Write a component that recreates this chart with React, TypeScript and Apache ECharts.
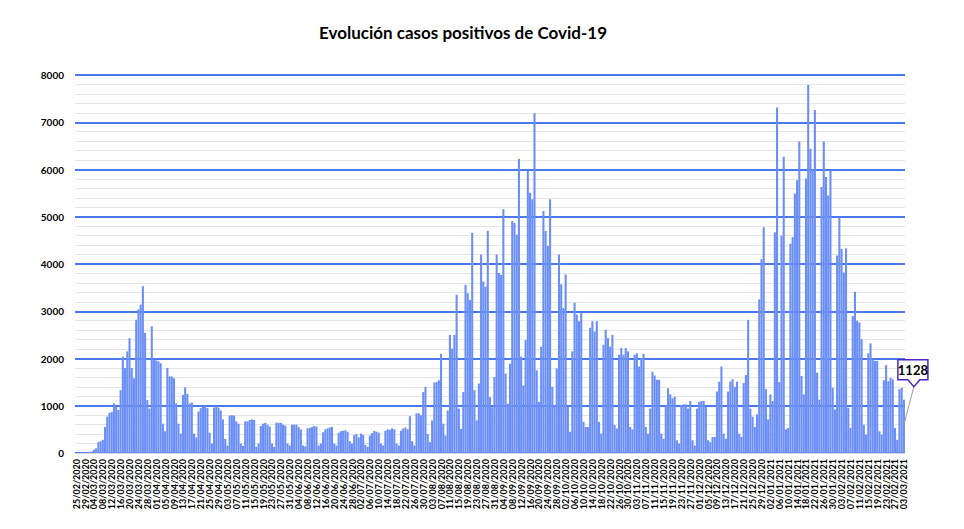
import React, { useEffect, useRef } from "react";
import * as echarts from "echarts";

// Daily new cases, one row per week (Tuesday .. Monday), from 25/02/2020
const dailyCases: number[] = [
  2, 3, 5, 8, 10, 15, 25,
  30, 70, 100, 230, 250, 280, 550,
  770, 850, 870, 1050, 980, 910, 1330,
  2040, 1800, 2150, 2430, 1800, 1580, 2820,
  3040, 3140, 3530, 2540, 1120, 940, 2680,
  1970, 1960, 1940, 1900, 620, 460, 1800,
  1620, 1620, 1580, 1050, 620, 410, 1230,
  1390, 1250, 1050, 1070, 410, 330, 880,
  950, 980, 1000, 950, 430, 200, 960,
  990, 960, 900, 710, 300, 160, 790,
  800, 790, 670, 620, 200, 150, 670,
  670, 700, 710, 700, 130, 200, 570,
  620, 640, 600, 560, 200, 130, 640,
  640, 640, 600, 580, 200, 160, 600,
  600, 600, 550, 500, 160, 140, 520,
  530, 550, 570, 560, 160, 200, 440,
  500, 520, 540, 550, 200, 160, 430,
  460, 470, 480, 450, 250, 200, 380,
  400, 330, 410, 380, 170, 130, 370,
  420, 470, 450, 430, 200, 160, 470,
  500, 490, 520, 500, 200, 160, 470,
  520, 540, 500, 780, 250, 160, 840,
  840, 800, 1290, 1400, 400, 230, 690,
  1490, 1500, 1540, 2100, 620, 370, 900,
  2500, 2210, 2500, 3350, 940, 510, 1290,
  3560, 3380, 3240, 4660, 1330, 690, 1470,
  4200, 3630, 3520, 4700, 1180, 970, 1610,
  4200, 3810, 3770, 5160, 1680, 1040, 1890,
  4910, 4870, 4620, 6220, 2040, 1430, 2390,
  5970, 5510, 5370, 7190, 1750, 1080, 2250,
  5120, 4700, 4380, 5370, 1400, 1010, 1790,
  4200, 3570, 3070, 3780, 980, 450, 2150,
  3180, 2930, 2790, 2960, 660, 550, 550,
  2650, 2790, 2570, 2790, 660, 410, 2290,
  2610, 2430, 2250, 2500, 590, 520, 2080,
  2220, 2080, 2220, 2150, 550, 500, 2080,
  2110, 1830, 2010, 2100, 550, 410, 940,
  1720, 1640, 1550, 1550, 410, 300, 1010,
  1370, 1240, 1160, 1190, 270, 200, 1010,
  1030, 1030, 940, 1100, 270, 160, 940,
  1080, 1100, 1100, 980, 270, 230, 340,
  340, 1300, 1510, 1830, 410, 300, 1300,
  1510, 1560, 1400, 1510, 410, 340, 1480,
  1650, 2820, 940, 770, 550, 820, 3250,
  4100, 4780, 1350, 710, 1240, 1100, 4670,
  7310, 1500, 4600, 6270, 500, 530, 4430,
  4570, 5490, 5770, 6590, 1630, 1240, 5810,
  7790, 6440, 5990, 7260, 1700, 1130, 5630,
  6590, 5840, 5450, 5990, 1380, 920, 4180,
  4990, 4320, 3820, 4330, 960, 530, 2900,
  3410, 2800, 2760, 2410, 600, 390, 2110,
  2320, 1980, 1950, 1950, 460, 390, 1540,
  1860, 1520, 1590, 1560, 530, 280, 1350,
  1380, 1128,
];

const firstDay = { year: 2020, month: 2, day: 25 };
const yTicks = { min: 0, max: 8000, interval: 1000 };
const titleText = "Evolución casos positivos de Covid-19";

const pad = (n: number) => (n < 10 ? "0" + n : "" + n);
const categories: string[] = dailyCases.map((_, i) => {
  const d = new Date(Date.UTC(firstDay.year, firstDay.month - 1, firstDay.day) + i * 86400000);
  return pad(d.getUTCDate()) + "/" + pad(d.getUTCMonth() + 1) + "/" + d.getUTCFullYear();
});

const FONT = "Lato, 'Liberation Sans', sans-serif";

export default function App() {
  const ref = useRef<HTMLDivElement>(null);
  useEffect(() => {
    if (!ref.current) return;
    const chart = echarts.init(ref.current, undefined, { renderer: "svg" });
    chart.setOption({
      animation: false,
      backgroundColor: "#ffffff",
      title: {
        text: titleText,
        left: 450,
        top: 11,
        textAlign: "center",
        textStyle: { fontFamily: FONT, fontWeight: "bold", fontSize: 17, color: "#000" },
      },
      grid: { left: 67, right: 51, top: 67, bottom: 76, containLabel: false },
      xAxis: {
        type: "category",
        data: categories,
        axisTick: { show: false },
        axisLine: { show: true, lineStyle: { color: "#d9d9d9", width: 1 } },
        axisLabel: {
          interval: 3,
          rotate: 90,
          margin: 6,
          showMinLabel: true,
          showMaxLabel: true,
          hideOverlap: false,
          fontFamily: FONT,
          fontWeight: "bold",
          fontSize: 9,
          color: "#000",
        },
      },
      yAxis: {
        type: "value",
        min: yTicks.min,
        max: yTicks.max,
        interval: yTicks.interval,
        axisLine: { show: false },
        axisTick: { show: false },
        axisLabel: {
          fontFamily: FONT,
          fontWeight: "bold",
          fontSize: 10,
          color: "#000",
          margin: 11,
          formatter: (v: number) => String(v),
        },
        splitLine: { show: true, lineStyle: { color: "#4a78f0", width: 2 } },
        minorTick: { show: false, splitNumber: 5 },
        minorSplitLine: { show: true, lineStyle: { color: "#e6e6e6", width: 1.2 } },
      },
      series: [
        {
          type: "bar",
          data: dailyCases,
          barCategoryGap: "6%",
          itemStyle: { color: "#6b8ff7" },
          z: 3,
        },
      ],
    });

    const last = dailyCases.length - 1;
    const p = chart.convertToPixel({ xAxisIndex: 0, yAxisIndex: 0 }, [last, dailyCases[last]]) as number[];
    const L = p[0] - 6, R = p[0] + 24, T = p[1] - 40, B = p[1] - 20;
    const cx = p[0] + 10;
    chart.setOption({
      graphic: [
        {
          type: "line",
          z: 100,
          shape: { x1: cx, y1: B + 7, x2: p[0], y2: p[1] + 25 },
          style: { stroke: "#9a9a9a", lineWidth: 1 },
        },
        {
          type: "polygon",
          z: 101,
          shape: {
            points: [
              [L, T], [R, T], [R, B], [cx + 6, B], [cx, B + 7], [cx - 6, B], [L, B],
            ],
          },
          style: { fill: "#ffffff", stroke: "#4b25c9", lineWidth: 1.5 },
        },
        {
          type: "text",
          z: 102,
          x: (L + R) / 2,
          y: (T + B) / 2,
          style: {
            text: String(dailyCases[last]),
            fill: "#000",
            fontFamily: FONT,
            fontWeight: "bold",
            fontSize: 13,
            align: "center",
            verticalAlign: "middle",
          },
        },
      ],
    });

    return () => chart.dispose();
  }, []);
  return <div ref={ref} style={{ width: 948, height: 521 }} />;
}
